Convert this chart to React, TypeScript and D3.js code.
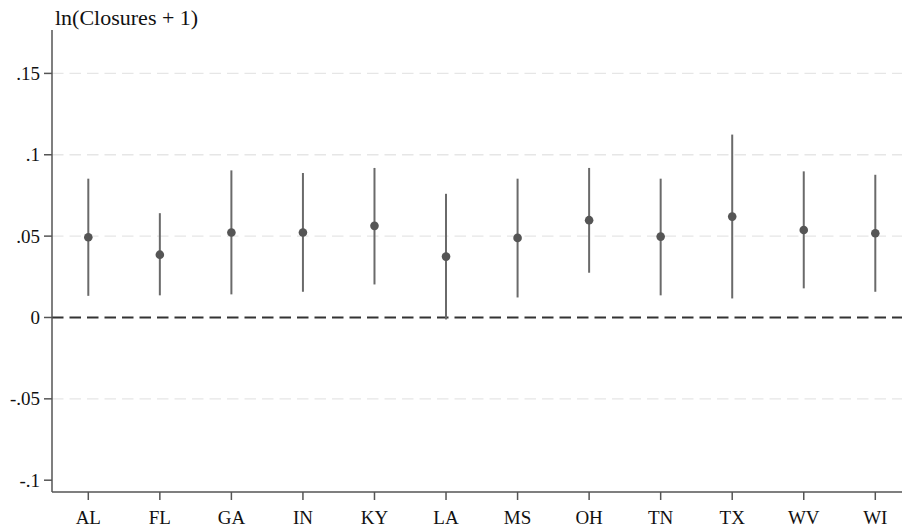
import React from 'react';
import * as d3 from 'd3';

const states = ['AL', 'FL', 'GA', 'IN', 'KY', 'LA', 'MS', 'OH', 'TN', 'TX', 'WV', 'WI'];
const estimates = [0.0493, 0.0386, 0.0522, 0.0522, 0.0563, 0.0374, 0.0489, 0.0598, 0.0497, 0.062, 0.0538, 0.0518];
const lower = [0.0133, 0.0136, 0.0142, 0.0158, 0.0203, -0.0012, 0.0123, 0.0275, 0.0136, 0.0117, 0.0179, 0.0158];
const upper = [0.0853, 0.0641, 0.0904, 0.0888, 0.0919, 0.076, 0.0853, 0.0919, 0.0853, 0.1124, 0.0898, 0.0877];
const yTicks = [-0.1, -0.05, 0, 0.05, 0.1, 0.15];
const yTickLabels = ['-.1', '-.05', '0', '.05', '.1', '.15'];
const yTitle = 'ln(Closures + 1)';

const width = 902;
const height = 529;
const axisLeft = 52;
const axisRight = 902;
const plotTop = 30;
const plotBottom = 492;
const font = '"Liberation Serif", "Times New Roman", serif';

export default function App() {
  const x = d3.scalePoint<string>().domain(states).range([88.3, 875.3]);
  const y = d3.scaleLinear().domain([-0.1, 0.15]).range([480.2, 73.4]);

  return (
    <svg
      width={width}
      height={height}
      style={{ position: 'absolute', left: 0, top: 0, background: '#fff' }}
    >
      {/* gridlines */}
      {yTicks.filter(t => t !== 0 && t !== -0.1).map(t => (
        <line
          key={`g${t}`}
          x1={axisLeft}
          x2={axisRight}
          y1={y(t)}
          y2={y(t)}
          stroke="#e6e6e6"
          strokeWidth={1.3}
          strokeDasharray="11.5,6"
        />
      ))}

      {/* zero reference line */}
      <line
        x1={axisLeft}
        x2={axisRight}
        y1={y(0)}
        y2={y(0)}
        stroke="#333"
        strokeWidth={2}
        strokeDasharray="11.5,6"
      />

      {/* confidence intervals */}
      {states.map((s, i) => (
        <line
          key={`ci${s}`}
          x1={x(s)}
          x2={x(s)}
          y1={y(lower[i])}
          y2={y(upper[i])}
          stroke="#6a6a6a"
          strokeWidth={2}
        />
      ))}

      {/* point estimates */}
      {states.map((s, i) => (
        <circle key={`pt${s}`} cx={x(s)} cy={y(estimates[i])} r={4.3} fill="#555" />
      ))}

      {/* y axis */}
      <line x1={axisLeft} x2={axisLeft} y1={plotTop} y2={plotBottom} stroke="#555" strokeWidth={1.5} />
      {yTicks.map((t, i) => (
        <g key={`yt${t}`}>
          <line x1={axisLeft - 8} x2={axisLeft} y1={y(t)} y2={y(t)} stroke="#555" strokeWidth={1.5} />
          <text
            x={axisLeft - 12}
            y={y(t)}
            dy="0.35em"
            textAnchor="end"
            fontFamily={font}
            fontSize={19}
            fill="#111"
          >
            {yTickLabels[i]}
          </text>
        </g>
      ))}

      {/* x axis */}
      <line x1={axisLeft} x2={axisRight} y1={plotBottom} y2={plotBottom} stroke="#555" strokeWidth={1.5} />
      {states.map(s => (
        <g key={`xt${s}`}>
          <line x1={x(s)} x2={x(s)} y1={plotBottom} y2={plotBottom + 8} stroke="#555" strokeWidth={1.5} />
          <text
            x={x(s)}
            y={plotBottom + 32}
            textAnchor="middle"
            fontFamily={font}
            fontSize={19}
            fill="#111"
          >
            {s}
          </text>
        </g>
      ))}

      {/* axis title */}
      <text x={55} y={25} fontFamily={font} fontSize={22} fill="#111">
        {yTitle}
      </text>
    </svg>
  );
}
